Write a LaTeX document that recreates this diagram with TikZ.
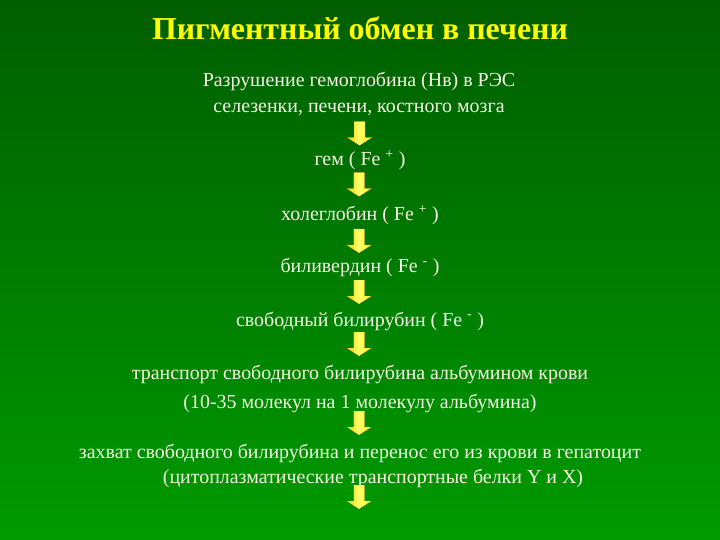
\documentclass[tikz,border=0pt]{standalone}
\usepackage{fontspec}
\setmainfont{Liberation Serif}
\usetikzlibrary{calc}
\definecolor{bgtop}{RGB}{0,94,0}
\definecolor{bgbot}{RGB}{0,154,0}
\definecolor{titleyellow}{RGB}{255,255,0}
\definecolor{bodytext}{RGB}{245,245,230}
\definecolor{arrL}{RGB}{232,205,0}
\definecolor{arrM}{RGB}{255,255,110}
\definecolor{arrR}{RGB}{255,242,0}
\tikzset{
  titletext/.style={anchor=base,inner sep=0pt,text=titleyellow,font=\fontsize{32}{36}\selectfont\bfseries},
  bodyline/.style={anchor=base,inner sep=0pt,text=bodytext,font=\fontsize{20}{24}\selectfont},
  pics/downarr/.style={code={
    \fill[left color=arrL,right color=arrR,middle color=arrM]
      (-5.5,-12) -- (5.5,-12) -- (5.5,4) -- (12.5,4) -- (0,12)
      -- (-12.5,4) -- (-5.5,4) -- cycle;}}
}
\begin{document}
\begin{tikzpicture}[x=1bp,y=-1bp]
\shade[top color=bgtop,bottom color=bgbot] (0,0) rectangle (720,540);
\useasboundingbox (0,0) rectangle (720,540);
\node[titletext] (title) at (360,40) {Пигментный обмен в печени};
\node[bodyline] (l1) at (359,87) {Разрушение гемоглобина (Нв) в РЭС};
\node[bodyline] (l2) at (359,113) {селезенки, печени, костного мозга};
\node[bodyline] (gem) at (360,166) {гем ( Fe \textsuperscript{+} )};
\node[bodyline] (hol) at (360,221) {холеглобин ( Fe \textsuperscript{+} )};
\node[bodyline] (bil) at (360,273) {биливердин ( Fe \textsuperscript{-} )};
\node[bodyline] (free) at (360,326) {свободный билирубин ( Fe \textsuperscript{-} )};
\node[bodyline] (tr1) at (360,379) {транспорт свободного билирубина альбумином крови};
\node[bodyline] (tr2) at (360,408) {(10-35 молекул на 1 молекулу альбумина)};
\node[bodyline] (z1) at (360,458) {захват свободного билирубина и перенос его из крови в гепатоцит};
\node[bodyline] (z2) at (373,483) {(цитоплазматические транспортные белки Y и X)};
\coordinate (end) at (359,497);
\pic at ($(l2.base)!0.5!(gem.base)+(0,-6)$) {downarr};
\pic at ($(gem.base)!0.5!(hol.base)+(-1,-9)$) {downarr};
\pic at ($(hol.base)!0.5!(bil.base)+(-1,-6)$) {downarr};
\pic at ($(bil.base)!0.5!(free.base)+(-1,-7.5)$) {downarr};
\pic at ($(free.base)!0.5!(tr1.base)+(-1,-8.5)$) {downarr};
\pic at ($(tr2.base)!0.5!(z1.base)+(-1,-10)$) {downarr};
\pic at (end) {downarr};
\end{tikzpicture}
\end{document}
